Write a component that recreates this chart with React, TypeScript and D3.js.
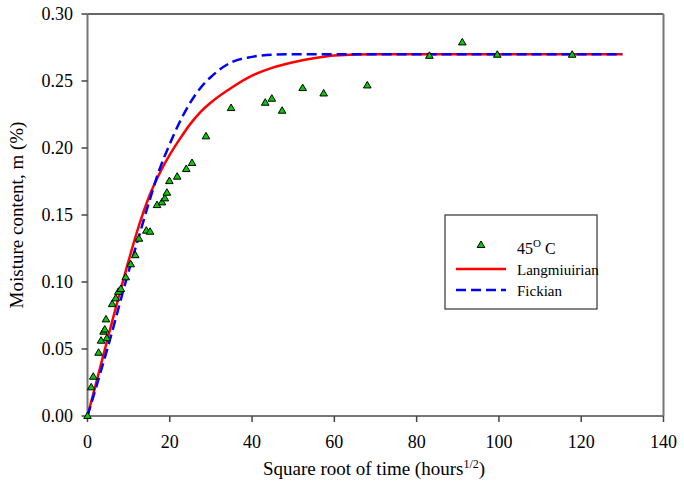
import React from "react";
import * as d3 from "d3";

const pointsX = [0, 0.9, 1.4, 2.7, 3.3, 3.9, 4.2, 4.5, 4.7, 6.0, 6.85, 7.5, 8.1, 9.3, 10.5, 11.6, 12.5, 14.3, 15.2, 16.9, 18.1, 18.8, 19.3, 19.9, 21.8, 24.0, 25.4, 28.8, 34.9, 43.2, 44.8, 47.3, 52.3, 57.4, 68.0, 83.1, 91.1, 99.6, 117.8];
const pointsY = [0, 0.0214, 0.0293, 0.0472, 0.0562, 0.0629, 0.0645, 0.0721, 0.058, 0.0835, 0.0878, 0.0927, 0.0948, 0.1035, 0.1132, 0.120, 0.1323, 0.1383, 0.1375, 0.1574, 0.1594, 0.1624, 0.1666, 0.1753, 0.1786, 0.1843, 0.1888, 0.2087, 0.2298, 0.2338, 0.2368, 0.2278, 0.2447, 0.2407, 0.2467, 0.2688, 0.2788, 0.2696, 0.2696];

const langX = [0, 5, 10, 12.5, 15, 17.5, 20, 22.5, 25, 27.5, 30, 35, 40, 45, 50, 55, 60, 70, 80, 100, 130];
const langY = [0, 0.059, 0.116, 0.142, 0.164, 0.181, 0.195, 0.207, 0.218, 0.227, 0.234, 0.245, 0.254, 0.260, 0.264, 0.267, 0.269, 0.270, 0.270, 0.270, 0.270];

const fickX = [0, 5, 10, 12.5, 15, 17.5, 20, 22.5, 25, 27.5, 30, 35, 40, 45, 50, 60, 80, 100, 130];
const fickY = [0, 0.052, 0.108, 0.134, 0.160, 0.184, 0.203, 0.220, 0.234, 0.245, 0.253, 0.264, 0.268, 0.2697, 0.270, 0.270, 0.270, 0.270, 0.270];

const xTicks = [0, 20, 40, 60, 80, 100, 120, 140];
const yTicks = [0, 0.05, 0.1, 0.15, 0.2, 0.25, 0.3];

const seriesLabels = ["45", "Langmiuirian", "Fickian"];

export default function App() {
  const W = 684, H = 499;
  const left = 87.5, right = 663.5, top = 14, bottom = 416;
  const x = d3.scaleLinear().domain([0, 140]).range([left, right]);
  const y = d3.scaleLinear().domain([0, 0.3]).range([bottom, top]);
  const line = d3.line<number>().curve(d3.curveMonotoneX);
  const langPath = line(langX.map((v, i) => [x(v), y(langY[i])] as any) as any);
  const fickPath = line(fickX.map((v, i) => [x(v), y(fickY[i])] as any) as any);
  const tri = (cx: number, cy: number) =>
    `M${cx},${cy - 4}L${cx + 3.8},${cy + 2.5}L${cx - 3.8},${cy + 2.5}Z`;
  const font = "Liberation Serif, Times New Roman, Times, serif";
  const ts = { fontFamily: font, fontSize: 18, fill: "#000" } as React.CSSProperties;
  const ls = { fontFamily: font, fontSize: 15, fill: "#000" } as React.CSSProperties;
  return (
    <svg width={W} height={H} style={{ position: "absolute", left: 0, top: 0 }}>
      <rect width={W} height={H} fill="#fff" />
      <line x1={left} x2={right} y1={top} y2={top} stroke="#333" strokeWidth={1.5} />
      <line x1={right} x2={right} y1={top} y2={bottom} stroke="#777" strokeWidth={2} />
      <line x1={left} x2={right} y1={bottom} y2={bottom} stroke="#777" strokeWidth={2} />
      <line x1={left} x2={left} y1={top} y2={bottom} stroke="#777" strokeWidth={2} />
      {xTicks.map((t) => (
        <g key={"x" + t}>
          <line x1={x(t)} x2={x(t)} y1={bottom} y2={bottom + 6} stroke="#444" strokeWidth={1.5} />
          <text x={x(t)} y={448} textAnchor="middle" style={ts}>{t}</text>
        </g>
      ))}
      {yTicks.map((t) => (
        <g key={"y" + t}>
          <line x1={left - 6} x2={left} y1={y(t)} y2={y(t)} stroke="#444" strokeWidth={1.5} />
          <text x={73} y={y(t) + 6} textAnchor="end" style={ts}>{t.toFixed(2)}</text>
        </g>
      ))}
      <text x={374} y={475} textAnchor="middle" style={{ ...ts, fontSize: 19 }}>
        Square root of time (hours<tspan dy={-7} style={{ fontSize: 12 }}>1/2</tspan><tspan dy={7}>)</tspan>
      </text>
      <text transform={`translate(23,${(top + bottom) / 2}) rotate(-90)`} textAnchor="middle" style={{ ...ts, fontSize: 19 }}>
        Moisture content, m (%)
      </text>
      <path d={langPath || ""} fill="none" stroke="#ff0000" strokeWidth={2.5} />
      <path d={fickPath || ""} fill="none" stroke="#0000ff" strokeWidth={2.5} strokeDasharray="10,5" />
      {pointsX.map((v, i) => (
        <path key={"p" + i} d={tri(x(v), y(pointsY[i]))} fill="#00cc00" stroke="#000" strokeWidth={1} />
      ))}
      <rect x={445} y={215} width={152} height={94} fill="#fff" stroke="#333" strokeWidth={1.2} />
      <path d={tri(481, 245)} fill="#00cc00" stroke="#000" strokeWidth={1} />
      <text x={517} y={254} style={{ ...ls, fontSize: 16 }}>
        {seriesLabels[0]}<tspan dy={-7} style={{ fontSize: 11 }}>O</tspan><tspan dy={7}> C</tspan>
      </text>
      <line x1={456} x2={506} y1={269} y2={269} stroke="#ff0000" strokeWidth={2.5} />
      <text x={517} y={275} style={ls}>{seriesLabels[1]}</text>
      <line x1={456} x2={506} y1={290} y2={290} stroke="#0000ff" strokeWidth={2.5} strokeDasharray="10,5" />
      <text x={517} y={296} style={ls}>{seriesLabels[2]}</text>
    </svg>
  );
}
